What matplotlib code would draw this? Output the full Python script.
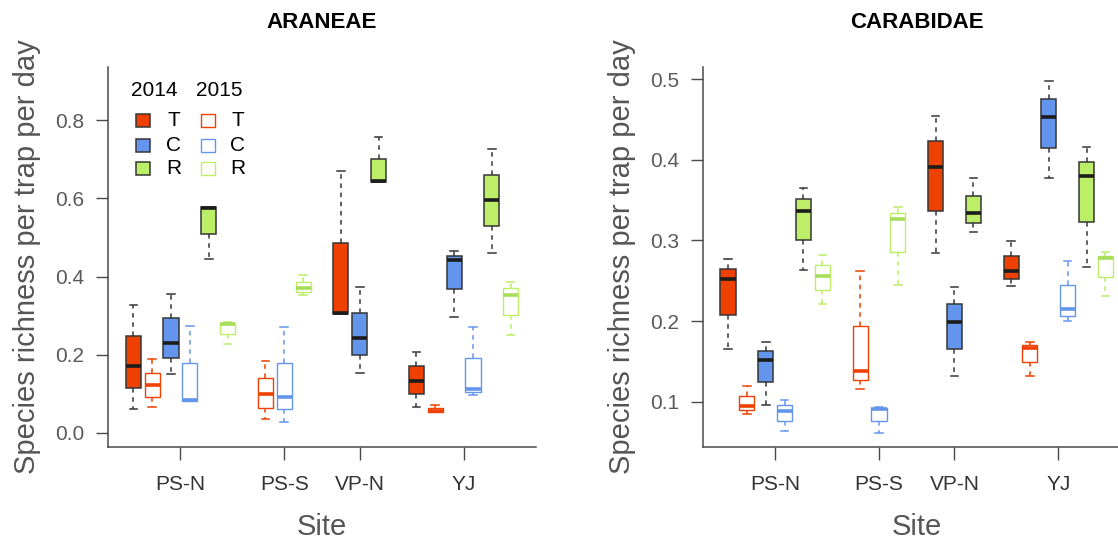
import matplotlib.pyplot as plt
from matplotlib.patches import Rectangle

plt.rcParams['font.family'] = ['Liberation Sans', 'DejaVu Sans']

sites = ["PS-N", "PS-S", "VP-N", "YJ"]
groups = ["T", "C", "R"]
years = ["2014", "2015"]
colors = {"T": "#EE4000", "C": "#6495ED", "R": "#BCEE68"}
median_2015 = {"T": "#EE4000", "C": "#6495ED", "R": "#A6DD5A"}

# five-number summaries per site: [lower whisker, Q1, median, Q3, upper whisker]
# None = site not sampled that year
ara_T_2014 = [[0.061, 0.116, 0.171, 0.248, 0.327], None,
              [0.303, 0.303, 0.306, 0.487, 0.670], [0.066, 0.100, 0.134, 0.171, 0.208]]
ara_T_2015 = [[0.066, 0.093, 0.123, 0.154, 0.188], [0.035, 0.065, 0.099, 0.141, 0.185],
              None, [0.054, 0.054, 0.057, 0.065, 0.072]]
ara_C_2014 = [[0.151, 0.191, 0.231, 0.295, 0.356], None,
              [0.154, 0.199, 0.242, 0.308, 0.374], [0.297, 0.369, 0.442, 0.453, 0.465]]
ara_C_2015 = [[0.082, 0.082, 0.085, 0.178, 0.274], [0.029, 0.061, 0.093, 0.180, 0.270],
              None, [0.097, 0.105, 0.112, 0.192, 0.272]]
ara_R_2014 = [[0.445, 0.510, 0.576, 0.578, 0.578], None,
              [0.642, 0.642, 0.645, 0.700, 0.756], [0.461, 0.529, 0.597, 0.661, 0.726]]
ara_R_2015 = [[0.227, 0.253, 0.279, 0.282, 0.284], [0.352, 0.360, 0.370, 0.387, 0.405],
              None, [0.250, 0.302, 0.354, 0.370, 0.387]]

car_T_2014 = [[0.165, 0.208, 0.252, 0.2645, 0.277], None,
              [0.285, 0.337, 0.391, 0.423, 0.454], [0.243, 0.2525, 0.2624, 0.2806, 0.2992]]
car_T_2015 = [[0.0847, 0.0897, 0.0946, 0.107, 0.119], [0.1165, 0.127, 0.1377, 0.194, 0.2624],
              None, [0.132, 0.1488, 0.167, 0.1703, 0.1736]]
car_C_2014 = [[0.096, 0.124, 0.152, 0.163, 0.174], None,
              [0.132, 0.165, 0.1984, 0.2207, 0.2425], [0.377, 0.4148, 0.4533, 0.4752, 0.4975]]
car_C_2015 = [[0.0637, 0.076, 0.089, 0.096, 0.102], [0.0608, 0.0757, 0.091, 0.092, 0.093],
              None, [0.200, 0.2066, 0.2145, 0.2443, 0.2748]]
car_R_2014 = [[0.263, 0.300, 0.337, 0.351, 0.3645], None,
              [0.3107, 0.322, 0.3335, 0.3554, 0.3777], [0.2666, 0.3226, 0.380, 0.3975, 0.4153]]
car_R_2015 = [[0.2207, 0.2385, 0.256, 0.2695, 0.2825], [0.2446, 0.2855, 0.326, 0.3335, 0.342],
              None, [0.2314, 0.2542, 0.2778, 0.281, 0.2859]]

araneae = {("T", "2014"): ara_T_2014, ("T", "2015"): ara_T_2015,
           ("C", "2014"): ara_C_2014, ("C", "2015"): ara_C_2015,
           ("R", "2014"): ara_R_2014, ("R", "2015"): ara_R_2015}
carabidae = {("T", "2014"): car_T_2014, ("T", "2015"): car_T_2015,
             ("C", "2014"): car_C_2014, ("C", "2015"): car_C_2015,
             ("R", "2014"): car_R_2014, ("R", "2015"): car_R_2015}

AX_GREY = "#4a4a4a"
DARK = "#363636"
TICK_FS = 15


def draw_panel(ax, data, title, ylim, yticks):
    pos = 1
    centers = []
    for s in range(len(sites)):
        site_pos = []
        for g in groups:
            for yr in years:
                q = data[(g, yr)][s]
                if q is None:
                    continue
                st = dict(whislo=q[0], q1=q[1], med=q[2], q3=q[3], whishi=q[4], fliers=[])
                if yr == "2014":
                    edge, face, med_c = DARK, colors[g], "#1c1c1c"
                    lw = 1.1
                else:
                    edge, face, med_c = colors[g], "white", median_2015[g]
                    lw = 1.0
                ax.bxp([st], positions=[pos], widths=0.8, capwidths=0.4,
                       patch_artist=True, showfliers=False,
                       boxprops=dict(facecolor=face, edgecolor=edge, linewidth=lw),
                       whiskerprops=dict(color=edge, linewidth=1.1, linestyle=(0, (3, 3))),
                       capprops=dict(color=edge, linewidth=1.1),
                       medianprops=dict(color=med_c, linewidth=2.6, solid_capstyle='butt'))
                site_pos.append(pos)
                pos += 1
        centers.append(sum(site_pos) / len(site_pos))
        pos += 1

    ax.set_xlim(-0.34, 22.34)
    ax.set_ylim(*ylim)
    ax.set_xticks(centers)
    ax.set_xticklabels(sites, fontsize=TICK_FS, color="#333333")
    ax.set_yticks(yticks)
    ax.set_yticklabels([f"{t:.1f}" for t in yticks], fontsize=TICK_FS, color="#5a5a5a")
    for side in ["top", "right"]:
        ax.spines[side].set_visible(False)
    for side in ["left", "bottom"]:
        ax.spines[side].set_color(AX_GREY)
        ax.spines[side].set_linewidth(1.1)
    ax.tick_params(axis="y", length=9, width=1.0, color=AX_GREY, pad=8)
    ax.tick_params(axis="x", length=9, width=1.0, color=AX_GREY, pad=11)

    ax.text(0.5, 1.118, title, transform=ax.transAxes, ha="center", va="center",
            fontsize=16, fontweight="bold", color="black")
    ax.text(-0.189, 0.5, "Species richness per trap per day", transform=ax.transAxes,
            rotation=90, ha="center", va="center", fontsize=21, color="#555555")
    ax.text(0.5, -0.2105, "Site", transform=ax.transAxes, ha="center", va="center",
            fontsize=21, color="#555555")


fig = plt.figure(figsize=(11.18, 5.42), dpi=100)
W, H = 1118, 542
ax1 = fig.add_axes([108 / W, 95 / H, 428 / W, 380 / H])
ax2 = fig.add_axes([702.7 / W, 95 / H, 428 / W, 380 / H])

draw_panel(ax1, araneae, "ARANEAE", (-0.036, 0.936), [0.0, 0.2, 0.4, 0.6, 0.8])
draw_panel(ax2, carabidae, "CARABIDAE", (0.044, 0.515), [0.1, 0.2, 0.3, 0.4, 0.5])

# legend: filled squares for 2014, hollow for 2015
sq_w, sq_h = 14 / 428, 13 / 380
rows_y = [0.8587, 0.7947, 0.7334]
ax1.text(0.1075, 0.9376, "2014", transform=ax1.transAxes, ha="center", va="center", fontsize=TICK_FS)
ax1.text(0.2593, 0.9376, "2015", transform=ax1.transAxes, ha="center", va="center", fontsize=TICK_FS)
for g, ry in zip(groups, rows_y):
    ax1.add_patch(Rectangle((0.0818 - sq_w / 2, ry - sq_h / 2), sq_w, sq_h,
                            transform=ax1.transAxes, facecolor=colors[g],
                            edgecolor=DARK, linewidth=1.1))
    ax1.add_patch(Rectangle((0.2325 - sq_w / 2, ry - sq_h / 2), sq_w, sq_h,
                            transform=ax1.transAxes, facecolor="white",
                            edgecolor=colors[g], linewidth=1.0))
    ax1.text(0.1542, ry, g, transform=ax1.transAxes, ha="center", va="center", fontsize=TICK_FS)
    ax1.text(0.3037, ry, g, transform=ax1.transAxes, ha="center", va="center", fontsize=TICK_FS)

fig.savefig("out.png", dpi=100)
